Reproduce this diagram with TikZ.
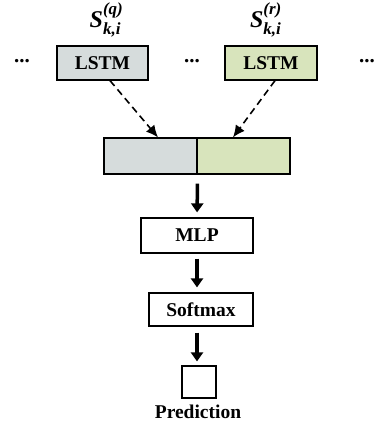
\documentclass[tikz,border=0pt]{standalone}
\usepackage{amsmath}
\usepackage{fontspec}
\setmainfont{Liberation Serif}
\usetikzlibrary{arrows.meta}

\newcommand{\scr}[1]{\mbox{\fontsize{17}{19}\selectfont\bfseries\itshape #1}}

\begin{document}
\begin{tikzpicture}[x=1pt, y=-1pt,
  box/.style={draw, line width=1.2pt, minimum height=34pt, inner sep=0pt,
    font=\fontsize{19.5}{23}\selectfont\bfseries},
  dots/.style={font=\fontsize{21}{24}\selectfont\bfseries},
  seq/.style={font=\fontsize{24}{28}\selectfont\bfseries\itshape, inner sep=0pt},
  thick_arrow/.style={line width=3.5pt, -{Triangle[width=12pt,length=9pt]}},
  dash_arrow/.style={line width=1.6pt, dash pattern=on 7pt off 4.5pt, -{Latex[length=12pt,width=11pt]}}]
\definecolor{my_grey}{RGB}{214,220,220}
\definecolor{my_green}{RGB}{216,228,188}
\useasboundingbox (0,0) rectangle (374,424);
\node[box, fill=my_grey, minimum width=91pt] (lstm_q) at (102.5,63) {LSTM};
\node[box, fill=my_green, minimum width=92pt] (lstm_r) at (271,63) {LSTM};
\node[seq] (s_q) at (106.5,20) {S$^{\scr{(q)}}_{\scr{k,i}}$};
\node[seq] (s_r) at (266,20) {S$^{\scr{(r)}}_{\scr{k,i}}$};
\node[dots] (dots_a) at (22,61) {...};
\node[dots] (dots_b) at (192,61) {...};
\node[dots] (dots_c) at (367,61) {...};
\node[box, fill=my_grey, minimum width=93pt, minimum height=36pt] (cat_q) at (150.5,156) {};
\node[box, fill=my_green, minimum width=93pt, minimum height=36pt] (cat_r) at (243.5,156) {};
\node[box, minimum width=112pt, minimum height=35pt] (mlp) at (197,235.5) {MLP};
\node[box, minimum width=104pt, minimum height=33pt] (softmax) at (201,309.5) {Softmax};
\node[box, minimum width=34pt, minimum height=32pt] (pred) at (199,382) {};
\node[font=\fontsize{19.5}{23}\selectfont\bfseries] (pred_text) at (198,412) {Prediction};
\draw[dash_arrow] ([xshift=7.5pt]lstm_q.south) -- ([xshift=7.5pt]cat_q.north);
\draw[dash_arrow] ([xshift=4pt]lstm_r.south) -- ([xshift=-10.5pt]cat_r.north);
\draw[thick_arrow, shorten <=9pt, shorten >=5pt] (cat_q.south east) -- (mlp.north);
\draw[thick_arrow, shorten <=5pt, shorten >=5pt] (mlp.south) -- (mlp.south |- softmax.north);
\draw[thick_arrow, shorten <=6pt, shorten >=4pt] (mlp.south |- softmax.south) -- (mlp.south |- pred.north);
\end{tikzpicture}
\end{document}
